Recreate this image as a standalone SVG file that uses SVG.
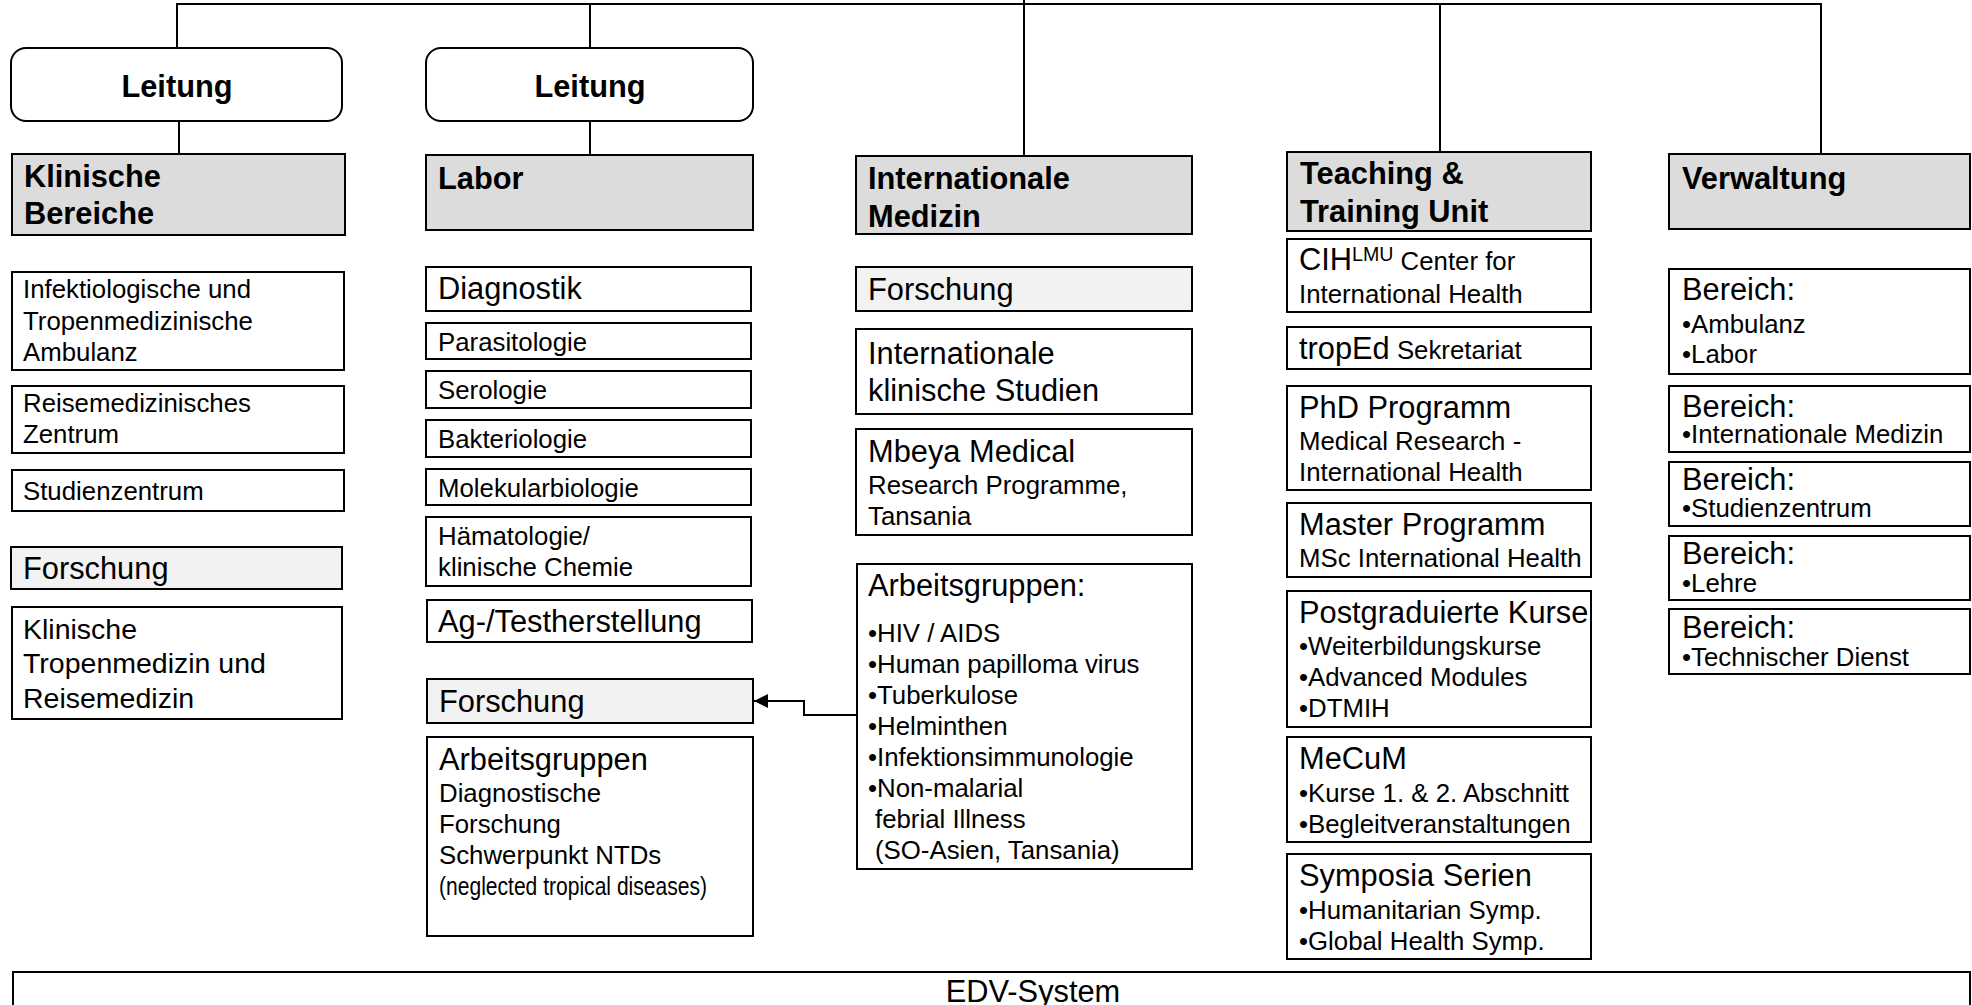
<svg xmlns="http://www.w3.org/2000/svg" width="1972" height="1005" viewBox="0 0 1972 1005">
<defs>
<style>
text{font-family:"Liberation Sans",Arial,sans-serif;fill:#000}
.b{fill:#fff;stroke:#000;stroke-width:2}
.h{fill:#dcdcdc;stroke:#000;stroke-width:2}
.f{fill:#f2f2f2;stroke:#000;stroke-width:2}
.hd{font-size:30.8px;font-weight:bold}
.L{font-size:30.8px}
.s{font-size:25.8px}
.c{stroke:#000;stroke-width:2;fill:none}
.n{font-family:"Liberation Sans Narrow","Arial Narrow","Liberation Sans",sans-serif;font-size:26px}
</style>
<marker id="ah" markerUnits="userSpaceOnUse" markerWidth="14" markerHeight="14" refX="14" refY="7" orient="auto">
<path d="M0,0 L14,7 L0,14 z" fill="#000"/>
</marker>
</defs>
<rect width="1972" height="1005" fill="#fff"/>

<g id="connectors">
<path class="c" d="M177,48 V4 H1821 V154"/>
<path class="c" d="M590,4 V48"/>
<path class="c" d="M590,121 V155"/>
<path class="c" d="M179,121 V154"/>
<path class="c" d="M1024,0 V156"/>
<path class="c" d="M1440,4 V152"/>
<path class="c" d="M856,715 H804 V701 H754" marker-end="url(#ah)"/>
</g>

<g id="leitung1"><rect class="b" x="11" y="48" width="331" height="73" rx="15"/><text class="hd" x="177" y="97" text-anchor="middle">Leitung</text></g>
<g id="leitung2"><rect class="b" x="426" y="48" width="327" height="73" rx="15"/><text class="hd" x="590" y="97" text-anchor="middle">Leitung</text></g>

<g id="klinische"><rect class="h" x="12" y="154" width="333" height="81"/><text class="hd" x="24" y="187">Klinische</text><text class="hd" x="24" y="224">Bereiche</text></g>
<g id="infekt"><rect class="b" x="12" y="272" width="332" height="98"/><text class="s" x="23" y="298">Infektiologische und</text><text class="s" x="23" y="330">Tropenmedizinische</text><text class="s" x="23" y="361">Ambulanz</text></g>
<g id="reise"><rect class="b" x="12" y="386" width="332" height="67"/><text class="s" x="23" y="412">Reisemedizinisches</text><text class="s" x="23" y="443">Zentrum</text></g>
<g id="studien"><rect class="b" x="12" y="470" width="332" height="41"/><text class="s" x="23" y="500">Studienzentrum</text></g>
<g id="forschung1"><rect class="f" x="11" y="547" width="331" height="42"/><text class="L" x="23" y="579">Forschung</text></g>
<g id="klintrop"><rect class="b" x="12" y="607" width="330" height="112"/><text style="font-size:28.5px" x="23" y="639">Klinische</text><text style="font-size:28.5px" x="23" y="673">Tropenmedizin und</text><text style="font-size:28.5px" x="23" y="708">Reisemedizin</text></g>

<g id="labor"><rect class="h" x="426" y="155" width="327" height="75"/><text class="hd" x="438" y="189">Labor</text></g>
<g id="diagnostik"><rect class="b" x="426" y="267" width="325" height="44"/><text class="L" x="438" y="299">Diagnostik</text></g>
<g id="parasitologie"><rect class="b" x="426" y="323" width="325" height="36"/><text class="s" x="438" y="351">Parasitologie</text></g>
<g id="serologie"><rect class="b" x="426" y="371" width="325" height="37"/><text class="s" x="438" y="399">Serologie</text></g>
<g id="bakteriologie"><rect class="b" x="426" y="420" width="325" height="37"/><text class="s" x="438" y="448">Bakteriologie</text></g>
<g id="molekular"><rect class="b" x="426" y="469" width="325" height="36"/><text class="s" x="438" y="497">Molekularbiologie</text></g>
<g id="haemato"><rect class="b" x="426" y="517" width="325" height="69"/><text class="s" x="438" y="545">Hämatologie/</text><text class="s" x="438" y="576">klinische Chemie</text></g>
<g id="agtest"><rect class="b" x="427" y="600" width="325" height="42"/><text class="L" x="438" y="632">Ag-/Testherstellung</text></g>
<g id="forschung2"><rect class="f" x="427" y="679" width="326" height="44"/><text class="L" x="439" y="712">Forschung</text></g>
<g id="ag-labor"><rect class="b" x="427" y="737" width="326" height="199"/><text class="L" x="439" y="770">Arbeitsgruppen</text><text class="s" x="439" y="802">Diagnostische</text><text class="s" x="439" y="833">Forschung</text><text class="s" x="439" y="864">Schwerpunkt NTDs</text><text class="n" x="439" y="895" textLength="268" lengthAdjust="spacingAndGlyphs">(neglected tropical diseases)</text></g>

<g id="intl"><rect class="h" x="856" y="156" width="336" height="78"/><text class="hd" x="868" y="189">Internationale</text><text class="hd" x="868" y="227">Medizin</text></g>
<g id="forschung3"><rect class="f" x="856" y="267" width="336" height="44"/><text class="L" x="868" y="300">Forschung</text></g>
<g id="iks"><rect class="b" x="856" y="329" width="336" height="85"/><text class="L" x="868" y="364">Internationale</text><text class="L" x="868" y="401">klinische Studien</text></g>
<g id="mbeya"><rect class="b" x="856" y="429" width="336" height="106"/><text class="L" x="868" y="462">Mbeya Medical</text><text class="s" x="868" y="494">Research Programme,</text><text class="s" x="868" y="525">Tansania</text></g>
<g id="ag-intl"><rect class="b" x="857" y="564" width="335" height="305"/><text class="L" x="868" y="596">Arbeitsgruppen:</text>
<text class="s" x="868" y="642">•HIV / AIDS</text>
<text class="s" x="868" y="673">•Human papilloma virus</text>
<text class="s" x="868" y="704">•Tuberkulose</text>
<text class="s" x="868" y="735">•Helminthen</text>
<text class="s" x="868" y="766">•Infektionsimmunologie</text>
<text class="s" x="868" y="797">•Non-malarial</text>
<text class="s" x="875" y="828">febrial Illness</text>
<text class="s" x="875" y="859">(SO-Asien, Tansania)</text></g>

<g id="teaching"><rect class="h" x="1287" y="152" width="304" height="79"/><text class="hd" x="1300" y="184">Teaching &amp;</text><text class="hd" x="1300" y="222">Training Unit</text></g>
<g id="cih"><rect class="b" x="1287" y="239" width="304" height="73"/><text x="1299" y="270"><tspan class="L">CIH</tspan><tspan style="font-size:19.6px" dy="-9">LMU</tspan><tspan class="s" dy="9"> Center for</tspan></text><text class="s" x="1299" y="303">International Health</text></g>
<g id="troped"><rect class="b" x="1287" y="327" width="304" height="42"/><text x="1299" y="359"><tspan class="L">tropEd</tspan><tspan class="s"> Sekretariat</tspan></text></g>
<g id="phd"><rect class="b" x="1287" y="386" width="304" height="104"/><text class="L" x="1299" y="418">PhD Programm</text><text class="s" x="1299" y="450">Medical Research -</text><text class="s" x="1299" y="481">International Health</text></g>
<g id="master"><rect class="b" x="1287" y="503" width="304" height="74"/><text class="L" x="1299" y="535">Master Programm</text><text class="s" x="1299" y="567">MSc International Health</text></g>
<g id="postgrad"><rect class="b" x="1287" y="591" width="304" height="136"/><text class="L" x="1299" y="623">Postgraduierte Kurse</text><text class="s" x="1299" y="655">•Weiterbildungskurse</text><text class="s" x="1299" y="686">•Advanced Modules</text><text class="s" x="1299" y="717">•DTMIH</text></g>
<g id="mecum"><rect class="b" x="1287" y="737" width="304" height="105"/><text class="L" x="1299" y="769">MeCuM</text><text class="s" x="1299" y="802">•Kurse 1. &amp; 2. Abschnitt</text><text class="s" x="1299" y="833">•Begleitveranstaltungen</text></g>
<g id="symposia"><rect class="b" x="1287" y="854" width="304" height="105"/><text class="L" x="1299" y="886">Symposia Serien</text><text class="s" x="1299" y="919">•Humanitarian Symp.</text><text class="s" x="1299" y="950">•Global Health Symp.</text></g>

<g id="verwaltung"><rect class="h" x="1669" y="154" width="301" height="75"/><text class="hd" x="1682" y="189">Verwaltung</text></g>
<g id="bereich1"><rect class="b" x="1669" y="269" width="301" height="105"/><text class="L" x="1682" y="300">Bereich:</text><text class="s" x="1682" y="333">•Ambulanz</text><text class="s" x="1682" y="363">•Labor</text></g>
<g id="bereich2"><rect class="b" x="1669" y="386" width="301" height="66"/><text class="L" x="1682" y="417">Bereich:</text><text class="s" x="1682" y="443">•Internationale Medizin</text></g>
<g id="bereich3"><rect class="b" x="1669" y="462" width="301" height="64"/><text class="L" x="1682" y="490">Bereich:</text><text class="s" x="1682" y="517">•Studienzentrum</text></g>
<g id="bereich4"><rect class="b" x="1669" y="536" width="301" height="64"/><text class="L" x="1682" y="564">Bereich:</text><text class="s" x="1682" y="592">•Lehre</text></g>
<g id="bereich5"><rect class="b" x="1669" y="609" width="301" height="65"/><text class="L" x="1682" y="638">Bereich:</text><text class="s" x="1682" y="666">•Technischer Dienst</text></g>

<g id="edv"><rect class="b" x="13" y="972" width="1957" height="40"/><text class="L" x="1033" y="1002" text-anchor="middle">EDV-System</text></g>
</svg>
